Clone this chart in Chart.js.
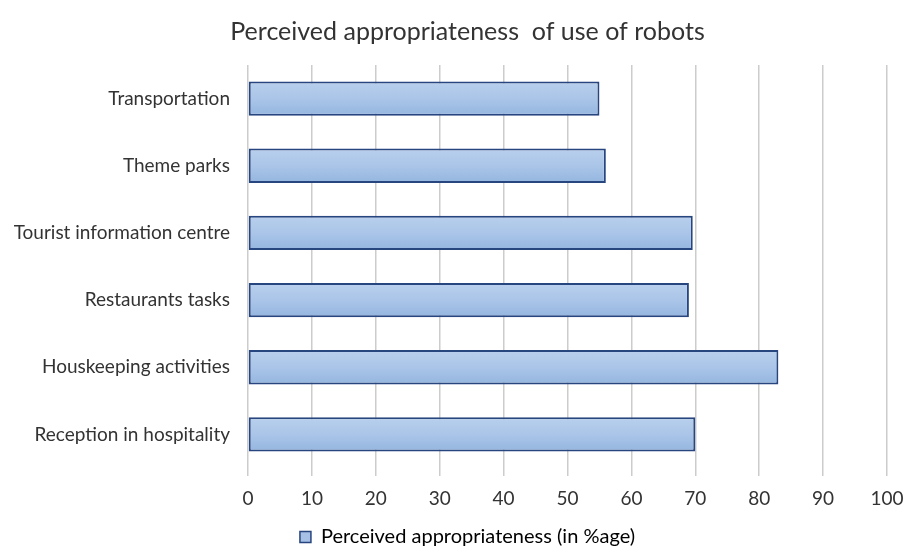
<!DOCTYPE html>
<html>
<head>
<meta charset="utf-8">
<title>Perceived appropriateness of use of robots</title>
<script src="https://cdn.jsdelivr.net/npm/chart.js@4/dist/chart.umd.min.js"></script>
<style>
  html, body { margin: 0; padding: 0; background: #fff; }
  #wrap { width: 904px; height: 548px; }
</style>
</head>
<body>
<div id="wrap"><canvas id="robots-chart"></canvas></div>
<script>
// survey results, top to bottom as shown
const areas = [
    'Transportation',
    'Theme parks',
    'Tourist information centre',
    'Restaurants tasks',
    'Houskeeping activities',
    'Reception in hospitality'
];
const appropriateness = [55, 56, 69.6, 69, 83, 70];
const xTicks = [0, 10, 20, 30, 40, 50, 60, 70, 80, 90, 100];

const FONT = 'Lato, "Open Sans", sans-serif';

// vertical gradient per bar, light at the top
function barFill(context) {
    const chart = context.chart;
    const y = chart.scales && chart.scales.y;
    if (!y || !chart.chartArea || context.dataIndex === undefined) return '#a6c1e5';
    const mid = y.getPixelForValue(context.dataIndex);
    const g = chart.ctx.createLinearGradient(0, mid - 17, 0, mid + 17);
    g.addColorStop(0, '#b9d0ed');
    g.addColorStop(0.5, '#aac5e8');
    g.addColorStop(1, '#95b6e0');
    return g;
}

// the long category names run into the left padding; let them draw there
const wideLabels = {
    id: 'wideLabels',
    afterLayout(chart) {
        chart.scales.y.left = 0;
    }
};

const ctx = document.getElementById('robots-chart').getContext('2d');

new Chart(ctx, {
    type: 'bar',
    data: {
        labels: areas,
        datasets: [{
            label: 'Perceived appropriateness (in %age)',
            data: appropriateness,
            backgroundColor: barFill,
            borderColor: '#27467f',
            borderWidth: 2,
            borderSkipped: false,
            barPercentage: 0.51,
            categoryPercentage: 1
        }]
    },
    plugins: [wideLabels],
    options: {
        indexAxis: 'y',
        responsive: true,
        maintainAspectRatio: false,
        animation: false,
        layout: {
            padding: { left: 48, right: 17, top: 0, bottom: -9 }
        },
        scales: {
            x: {
                min: 0,
                max: 100,
                afterBuildTicks: axis => {
                    axis.ticks = xTicks.map(v => ({ value: v }));
                },
                afterFit: axis => {
                    // leave room under the tick labels for the legend
                    axis.height = 59;
                    axis.paddingRight = 0;
                },
                grid: {
                    color: '#cccccc',
                    lineWidth: 1.5,
                    drawTicks: true,
                    tickLength: 8
                },
                border: { display: false },
                ticks: {
                    color: '#333',
                    padding: 11,
                    font: { family: FONT, size: 19 }
                }
            },
            y: {
                grid: { display: false, drawTicks: false },
                border: { display: false },
                ticks: {
                    color: '#333',
                    padding: 18,
                    font: { family: FONT, size: 19 }
                },
                afterFit: axis => { axis.width = 200; }
            }
        },
        plugins: {
            title: {
                display: true,
                text: 'Perceived appropriateness  of use of robots',
                color: '#333',
                font: { family: FONT, size: 25, weight: 'normal' },
                padding: { top: 17, bottom: 18 }
            },
            legend: {
                position: 'bottom',
                labels: {
                    color: '#333',
                    boxWidth: 11,
                    boxHeight: 11,
                    padding: 0,
                    font: { family: FONT, size: 20 },
                    generateLabels: chart => [{
                        text: chart.data.datasets[0].label,
                        fillStyle: '#a6c1e5',
                        strokeStyle: '#27467f',
                        lineWidth: 1.5,
                        datasetIndex: 0
                    }]
                }
            },
            tooltip: { enabled: false }
        }
    }
});
</script>
</body>
</html>
